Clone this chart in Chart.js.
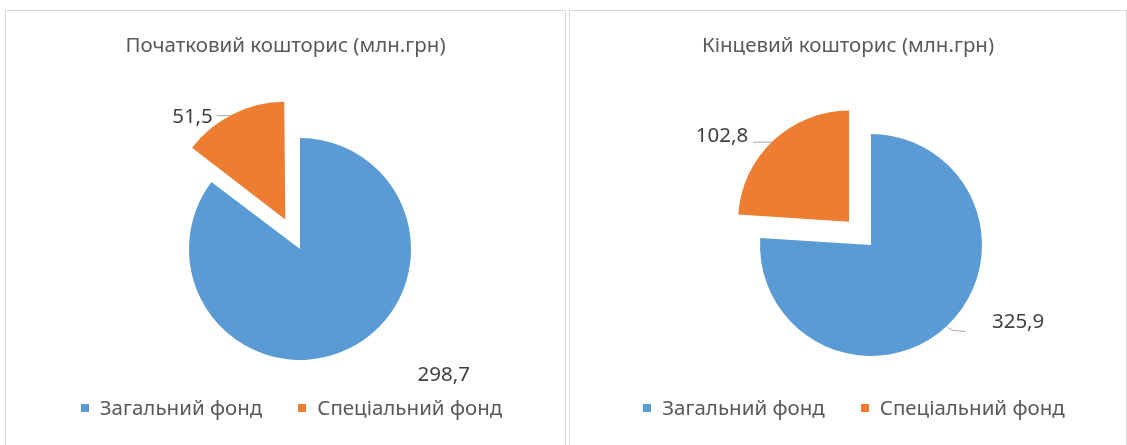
<!DOCTYPE html>
<html lang="uk">
<head>
<meta charset="utf-8">
<script src="https://cdn.jsdelivr.net/npm/chart.js@4.4.1/dist/chart.umd.min.js"></script>
<style>
  body {
    margin: 0;
    width: 1127px;
    height: 445px;
    overflow: hidden;
    background: #fff;
    font-family: "Noto Sans", sans-serif;
  }
  .caja {
    position: absolute;
    top: 10px;
    height: 460px;
    box-sizing: border-box;
    border: 1px solid #d9d9d9;
  }
  #caja-inicial { left: 5px; width: 561px; }
  #caja-final { left: 569px; width: 558px; }
  .caja canvas { position: absolute; left: 0; top: 0; }
  .titulo {
    position: absolute;
    left: 0;
    right: 0;
    top: 21px;
    text-align: center;
    font-size: 20.5px;
    line-height: 24px;
    color: #595959;
  }
  .leyenda {
    position: absolute;
    left: 12px;
    right: 0;
    top: 384px;
    display: flex;
    justify-content: center;
    font-size: 20.5px;
    line-height: 24px;
    color: #595959;
  }
  .item { display: flex; align-items: center; }
  .item + .item { margin-left: 36px; }
  .cuadro { width: 8px; height: 8px; margin: 1px 11px 0 0; }
</style>
</head>
<body>

<div class="caja" id="caja-inicial">
  <canvas id="chartInicial" width="559" height="440"></canvas>
  <div class="titulo" id="titulo-inicial"></div>
  <div class="leyenda" id="leyenda-inicial"></div>
</div>

<div class="caja" id="caja-final">
  <canvas id="chartFinal" width="556" height="440"></canvas>
  <div class="titulo" id="titulo-final"></div>
  <div class="leyenda" id="leyenda-final"></div>
</div>

<script>
// datos
const categorias = ["Загальний фонд", "Спеціальний фонд"];
const colores = ["#5b9bd5", "#ed7d31"];

const tituloInicial = "Початковий кошторис (млн.грн)";
const valoresInicial = [298.7, 51.5];

const tituloFinal = "Кінцевий кошторис (млн.грн)";
const valoresFinal = [325.9, 102.8];

function formato(v) {
  return v.toFixed(1).replace(".", ",");
}

// etiquetas de valor con línea guía, ancladas al borde de cada sector
const etiquetasValores = {
  id: "etiquetasValores",
  afterDatasetsDraw(chart, args, opts) {
    const { ctx } = chart;
    const meta = chart.getDatasetMeta(0);
    const valores = chart.data.datasets[0].data;

    ctx.save();
    ctx.font = "20.5px 'Noto Sans'";
    ctx.fillStyle = "#404040";
    ctx.strokeStyle = "#a6a6a6";
    ctx.lineWidth = 1;

    meta.data.forEach((arc, i) => {
      const pos = opts.posiciones[i];
      const medio = (arc.startAngle + arc.endAngle) / 2;
      // mismo desplazamiento que usa ArcElement al dibujar el sector separado
      const desplazo = (arc.options.offset || 0) / 4;
      const fix = 1 - Math.sin(Math.min(Math.PI, arc.circumference));
      const r = arc.outerRadius + desplazo * (1 + fix);
      const bx = arc.x + Math.cos(medio) * r;
      const by = arc.y + Math.sin(medio) * r;

      if (pos.guia) {
        ctx.beginPath();
        pos.guia.forEach(([gx, gy], k) => {
          if (k === 0) ctx.moveTo(bx + gx, by + gy + 0.5);
          else ctx.lineTo(bx + gx, by + gy + 0.5);
        });
        ctx.stroke();
      }

      ctx.textAlign = pos.align;
      ctx.textBaseline = "alphabetic";
      ctx.fillText(formato(valores[i]), bx + pos.dx, by + pos.dy);
    });
    ctx.restore();
  },
};

function renderLeyenda(id) {
  const cont = document.getElementById(id);
  cont.innerHTML = categorias
    .map(
      (c, i) =>
        `<div class="item"><span class="cuadro" style="background:${colores[i]}"></span>${c}</div>`
    )
    .join("");
}

function renderPie(canvasId, valores, offsetExplode, padding, posiciones) {
  return new Chart(document.getElementById(canvasId), {
    type: "pie",
    data: {
      labels: categorias,
      datasets: [
        {
          data: valores,
          backgroundColor: colores,
          borderWidth: 0,
          hoverOffset: 0,
          offset: [0, offsetExplode],
        },
      ],
    },
    options: {
      responsive: false,
      animation: false,
      events: [],
      radius: 111,
      layout: { padding },
      plugins: {
        title: { display: false },
        legend: { display: false },
        tooltip: { enabled: false },
        etiquetasValores: { posiciones },
      },
    },
    plugins: [etiquetasValores],
  });
}

document.getElementById("titulo-inicial").innerText = tituloInicial;
document.getElementById("titulo-final").innerText = tituloFinal;
renderLeyenda("leyenda-inicial");
renderLeyenda("leyenda-final");

renderPie(
  "chartInicial",
  valoresInicial,
  132,
  { left: 164, right: 135, top: 108, bottom: 72 },
  [
    { dx: 68, dy: 33, align: "left" },
    { dx: -20, dy: 8.5, align: "right", guia: [[-3, 1], [-16, 1]] },
  ]
);

renderPie(
  "chartFinal",
  valoresFinal,
  128,
  { left: 171, right: 125, top: 104, bottom: 76 },
  [
    { dx: 45, dy: 2, align: "left", guia: [[1, 1], [6, 4], [19, 5]] },
    { dx: -25, dy: 1, align: "right", guia: [[-1, 1], [-20, 1]] },
  ]
);
</script>
</body>
</html>
